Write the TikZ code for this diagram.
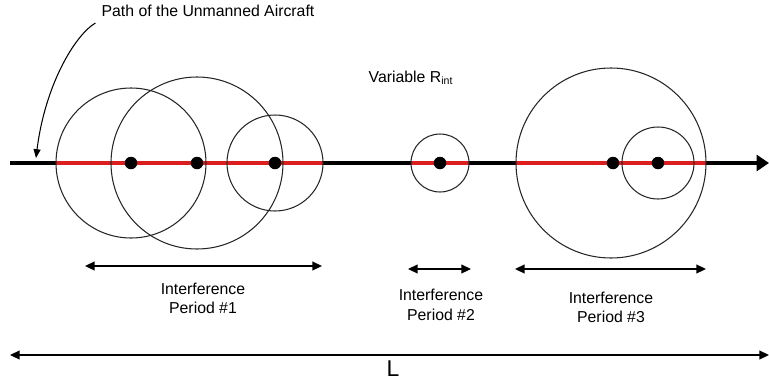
\documentclass[tikz,border=0pt]{standalone}
\usepackage{fontspec}
\setmainfont{Liberation Sans}
\definecolor{zonered}{RGB}{220,30,30}
\usetikzlibrary{arrows.meta,positioning}

\begin{document}
\begin{tikzpicture}[x=0.02cm, y=-0.02cm, font=\fontsize{9}{11}\selectfont]
                \tikzstyle{dot} = [circle, fill=black, inner sep=0pt, minimum size=0.25cm]
                \tikzstyle{ring} = [draw=black!85, line width=0.6pt]
                \tikzstyle{track} = [draw, line width=2pt, -{Triangle[length=7pt, width=9pt]}]
                \tikzstyle{zone} = [draw=zonered, line width=2.6pt]
                \tikzstyle{span} = [draw, line width=1pt, {Triangle[length=5.5pt, width=5pt]}-{Triangle[length=5.5pt, width=5pt]}]
                \tikzstyle{lbl} = [align=center]

                \useasboundingbox (0,0) rectangle (769,386);

                \coordinate (start) at (10,163);
                \coordinate (end) at (769,163);
                \coordinate (aim) at (36,158);
                \coordinate (c1) at (131,163);
                \coordinate (c2) at (197,163);
                \coordinate (c3) at (275,163);
                \coordinate (c4) at (440,163);
                \coordinate (c5) at (611,163);
                \coordinate (c6) at (658,163);

                % flight path and interference zones
                \path [track] (start) -- (end);
                \coordinate (z1a) at (56,163);
                \coordinate (z1b) at (323,163);
                \coordinate (z2a) at (411,163);
                \coordinate (z2b) at (469,163);
                \coordinate (z3a) at (516,163);
                \coordinate (z3b) at (706,163);
                \path [zone] (z1a) -- (z1b);
                \path [zone] (z2a) -- (z2b);
                \path [zone] (z3a) -- (z3b);

                % interference radii
                \draw [ring] (c1) circle [radius=75];
                \draw [ring] (c2) circle [radius=86];
                \draw [ring] (c3) circle [radius=48];
                \draw [ring] (c4) circle [radius=29];
                \draw [ring] (c5) circle [radius=95];
                \draw [ring] (c6) circle [radius=36];

                \node [dot] (d1) at (c1) {};
                \node [dot] (d2) at (c2) {};
                \node [dot] (d3) at (c3) {};
                \node [dot] (d4) at (c4) {};
                \node [dot] (d5) at (613,163) {};
                \node [dot] (d6) at (c6) {};

                \node (pathlbl) at (208,11) {Path of the Unmanned Aircraft};
                \draw [line width=0.6pt, -{Triangle[length=5pt, width=4pt]}] (pathlbl.south west) .. controls (75,35) and (45,85) .. (aim);
                \node (rint) at (411,78) {Variable R\textsubscript{int}};

                % periods
                \coordinate (p1a) at (85,266);
                \coordinate (p1b) at (322,266);
                \coordinate (p2a) at (408,269);
                \coordinate (p2b) at (471,269);
                \coordinate (p3a) at (515,269);
                \coordinate (p3b) at (706,269);
                \path [span] (p1a) -- (p1b);
                \path [span] (p2a) -- (p2b);
                \path [span] (p3a) -- (p3b);
                \node [lbl] (per1) at (203,298.5) {Interference\\Period \#1};
                \node [lbl] (per2) at (441,305) {Interference\\Period \#2};
                \node [lbl] (per3) at (611,307.5) {Interference\\Period \#3};

                \coordinate (la) at (10,355);
                \coordinate (lb) at (769,355);
                \path [span] (la) -- (lb);
                \node (len) at (393,368.5) {\fontsize{13}{15}\selectfont L};
            \end{tikzpicture}
\end{document}
